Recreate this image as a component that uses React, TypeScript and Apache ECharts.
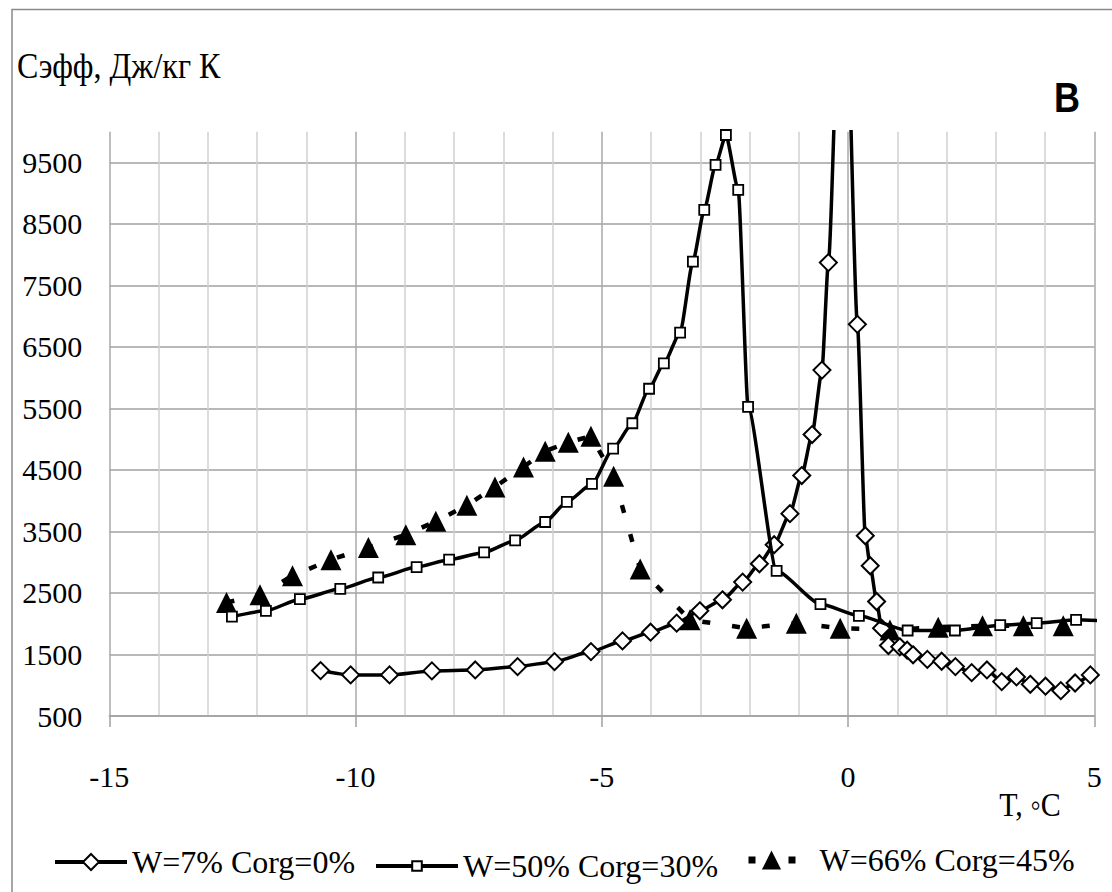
import React, { useEffect, useRef } from "react";
import * as echarts from "echarts";

// ---- data ----
const xTicks = [-15, -10, -5, 0, 5];
const yTickLabels = [500, 1500, 2500, 3500, 4500, 5500, 6500, 7500, 8500, 9500];
const seriesNames = ["W=7% Corg=0%", "W=50% Corg=30%", "W=66% Corg=45%"];

const tW7 = [-10.71, -10.1, -9.31, -8.45, -7.57, -6.71, -5.96, -5.22, -4.58, -4.01, -3.48, -3.01, -2.55, -2.14, -1.8, -1.5, -1.18, -0.94, -0.73, -0.53, -0.4, -0.1, 0.19, 0.35, 0.45, 0.58, 0.68, 0.82, 1.05, 1.2, 1.32, 1.61, 1.9, 2.18, 2.51, 2.82, 3.12, 3.42, 3.7, 4.01, 4.32, 4.61, 4.92];
const cW7 = [1238, 1168, 1168, 1233, 1249, 1303, 1384, 1547, 1721, 1863, 2010, 2210, 2389, 2677, 2975, 3285, 3790, 4409, 5076, 6124, 7872, 14200, 6868, 3431, 2943, 2362, 1928, 1645, 1625, 1570, 1495, 1420, 1390, 1303, 1205, 1249, 1059, 1135, 1015, 985, 912, 1037, 1168];

const tW50 = [-12.51, -11.82, -11.13, -10.31, -9.54, -8.76, -8.1, -7.39, -6.76, -6.15, -5.71, -5.2, -4.77, -4.38, -4.04, -3.74, -3.41, -3.15, -2.92, -2.69, -2.48, -2.23, -2.03, -1.45, -0.56, 0.22, 1.21, 2.17, 3.09, 3.83, 4.63, 5.25];
const cW50 = [2117, 2210, 2400, 2568, 2752, 2921, 3041, 3160, 3355, 3654, 3980, 4273, 4848, 5260, 5821, 6233, 6733, 7889, 8730, 9462, 9946, 9055, 5527, 2861, 2319, 2129, 1890, 1890, 1977, 2010, 2063, 2045];

const tW66 = [-12.62, -11.94, -11.28, -10.5, -9.74, -8.98, -8.37, -7.74, -7.17, -6.59, -6.15, -5.68, -5.22, -4.76, -4.22, -3.21, -2.06, -1.05, -0.16, 0.85, 1.83, 2.73, 3.56, 4.37];
const cW66 = [2345, 2471, 2780, 3041, 3241, 3448, 3665, 3925, 4224, 4550, 4805, 4951, 5049, 4397, 2889, 2063, 1928, 2010, 1928, 1900, 1944, 1966, 1966, 1966];

const SERIF = "Liberation Serif, Times New Roman, serif";

function pairs(xs: number[], ys: number[]) {
  return xs.map((x, i) => [x, ys[i]]);
}

export default function App() {
  const ref = useRef<HTMLDivElement>(null);
  useEffect(() => {
    if (!ref.current) return;
    const chart = echarts.init(ref.current, undefined, { renderer: "svg" });
    const w50 = pairs(tW50, cW50).map((p, i, arr) =>
      i === arr.length - 1 ? { value: p, symbol: "none" } : p
    );
    const legendText = { fontFamily: SERIF, fontSize: 32, color: "#000" };
    const legendBase = {
      orient: "horizontal",
      padding: 0,
      selectedMode: false,
      textStyle: legendText,
    };
    const option: any = {
      animation: false,
      backgroundColor: "#fff",
      textStyle: { fontFamily: SERIF },
      grid: { left: 109.3, right: 17.7, top: 131.7, bottom: 176 },
      xAxis: {
        type: "value",
        min: xTicks[0],
        max: xTicks[xTicks.length - 1],
        interval: 5,
        axisLine: { show: true, lineStyle: { color: "#a0a0a0", width: 1.5 } },
        axisTick: { show: true, length: 11, lineStyle: { color: "#a0a0a0", width: 1.5 } },
        minorTick: { show: false, splitNumber: 5 },
        splitLine: { show: true, lineStyle: { color: "#a8a8a8", width: 1.5 } },
        minorSplitLine: { show: true, lineStyle: { color: "#d0d0d0", width: 1.5 } },
        axisLabel: {
          fontFamily: SERIF,
          fontSize: 30,
          color: "#000",
          margin: 45,
          formatter: (v: number) => String(v),
        },
      },
      yAxis: {
        type: "value",
        min: yTickLabels[0],
        max: 10000,
        interval: 1000,
        axisLine: { show: false },
        axisTick: { show: false },
        splitLine: { show: true, showMaxLine: false, lineStyle: { color: "#a0a0a0", width: 1.5 } },
        axisLabel: {
          fontFamily: SERIF,
          fontSize: 30,
          color: "#000",
          margin: 27,
          showMaxLabel: false,
          padding: [12, 0, 0, 0],
          formatter: (v: number) => (v > 9500 ? "" : String(v)),
        },
      },
      legend: [
        {
          ...legendBase,
          data: [seriesNames[0]],
          left: 53,
          top: 846,
          itemWidth: 72,
          itemHeight: 20,
          lineStyle: { color: "#000", width: 4 },
        },
        {
          ...legendBase,
          data: [seriesNames[1]],
          left: 374,
          top: 850,
          itemWidth: 82,
          itemHeight: 12,
          lineStyle: { color: "#000", width: 4 },
        },
        {
          ...legendBase,
          data: [seriesNames[2]],
          left: 738,
          top: 844,
          itemWidth: 60,
          itemHeight: 24,
          textStyle: { ...legendText, padding: [0, 0, 0, 13] },
          lineStyle: { color: "#000", width: 7, type: [7, 33], dashOffset: 33 },
        },
      ],
      graphic: [
        {
          type: "rect",
          shape: { x: 12, y: 9.5, width: 1300, height: 1000 },
          style: { fill: "none", stroke: "#8a8a8a", lineWidth: 1.5 },
          silent: true,
          z: -10,
        },
        {
          type: "text",
          x: 17,
          y: 66,
          scaleY: 1.12,
          style: {
            text: "Сэфф, Дж/кг К",
            fontFamily: SERIF,
            fontSize: 32,
            fill: "#000",
            align: "left",
            verticalAlign: "middle",
            textAlign: "left",
            textVerticalAlign: "middle",
          },
        },
        {
          type: "text",
          x: 1030,
          y: 805,
          scaleY: 1.12,
          style: {
            text: "T, ◦C",
            fontFamily: SERIF,
            fontSize: 30,
            fill: "#000",
            align: "center",
            verticalAlign: "middle",
            textAlign: "center",
            textVerticalAlign: "middle",
          },
        },
        {
          type: "text",
          x: 1067,
          y: 97,
          scaleY: 1.2,
          style: {
            text: "B",
            fontFamily: "Liberation Sans, Arial, sans-serif",
            fontWeight: "bold",
            fontSize: 36,
            fill: "#000",
            align: "center",
            verticalAlign: "middle",
            textAlign: "center",
            textVerticalAlign: "middle",
          },
        },
      ],
      series: [
        {
          name: seriesNames[0],
          type: "line",
          data: pairs(tW7, cW7),
          smooth: 0.2,
          smoothMonotone: "x",
          symbol: "diamond",
          symbolSize: 17,
          showAllSymbol: true,
          lineStyle: { color: "#000", width: 3.5 },
          itemStyle: { color: "#fff", borderColor: "#000", borderWidth: 2 },
          z: 3,
        },
        {
          name: seriesNames[1],
          type: "line",
          data: w50,
          clip: false,
          smooth: 0.2,
          smoothMonotone: "x",
          symbol: "rect",
          symbolSize: 10,
          showAllSymbol: true,
          lineStyle: { color: "#000", width: 3.5 },
          itemStyle: { color: "#fff", borderColor: "#000", borderWidth: 1.8 },
          z: 4,
        },
        {
          name: seriesNames[2],
          type: "line",
          data: pairs(tW66, cW66),
          symbol: "triangle",
          symbolSize: 21,
          showAllSymbol: true,
          lineStyle: { color: "#000", width: 4.5, type: [8, 22] },
          itemStyle: { color: "#000", borderColor: "#000", borderWidth: 0 },
          z: 2,
        },
      ],
    };
    chart.setOption(option);
    return () => chart.dispose();
  }, []);
  return (
    <div
      ref={ref}
      style={{ position: "fixed", left: 0, top: 0, width: 1112, height: 892, background: "#fff" }}
    />
  );
}
